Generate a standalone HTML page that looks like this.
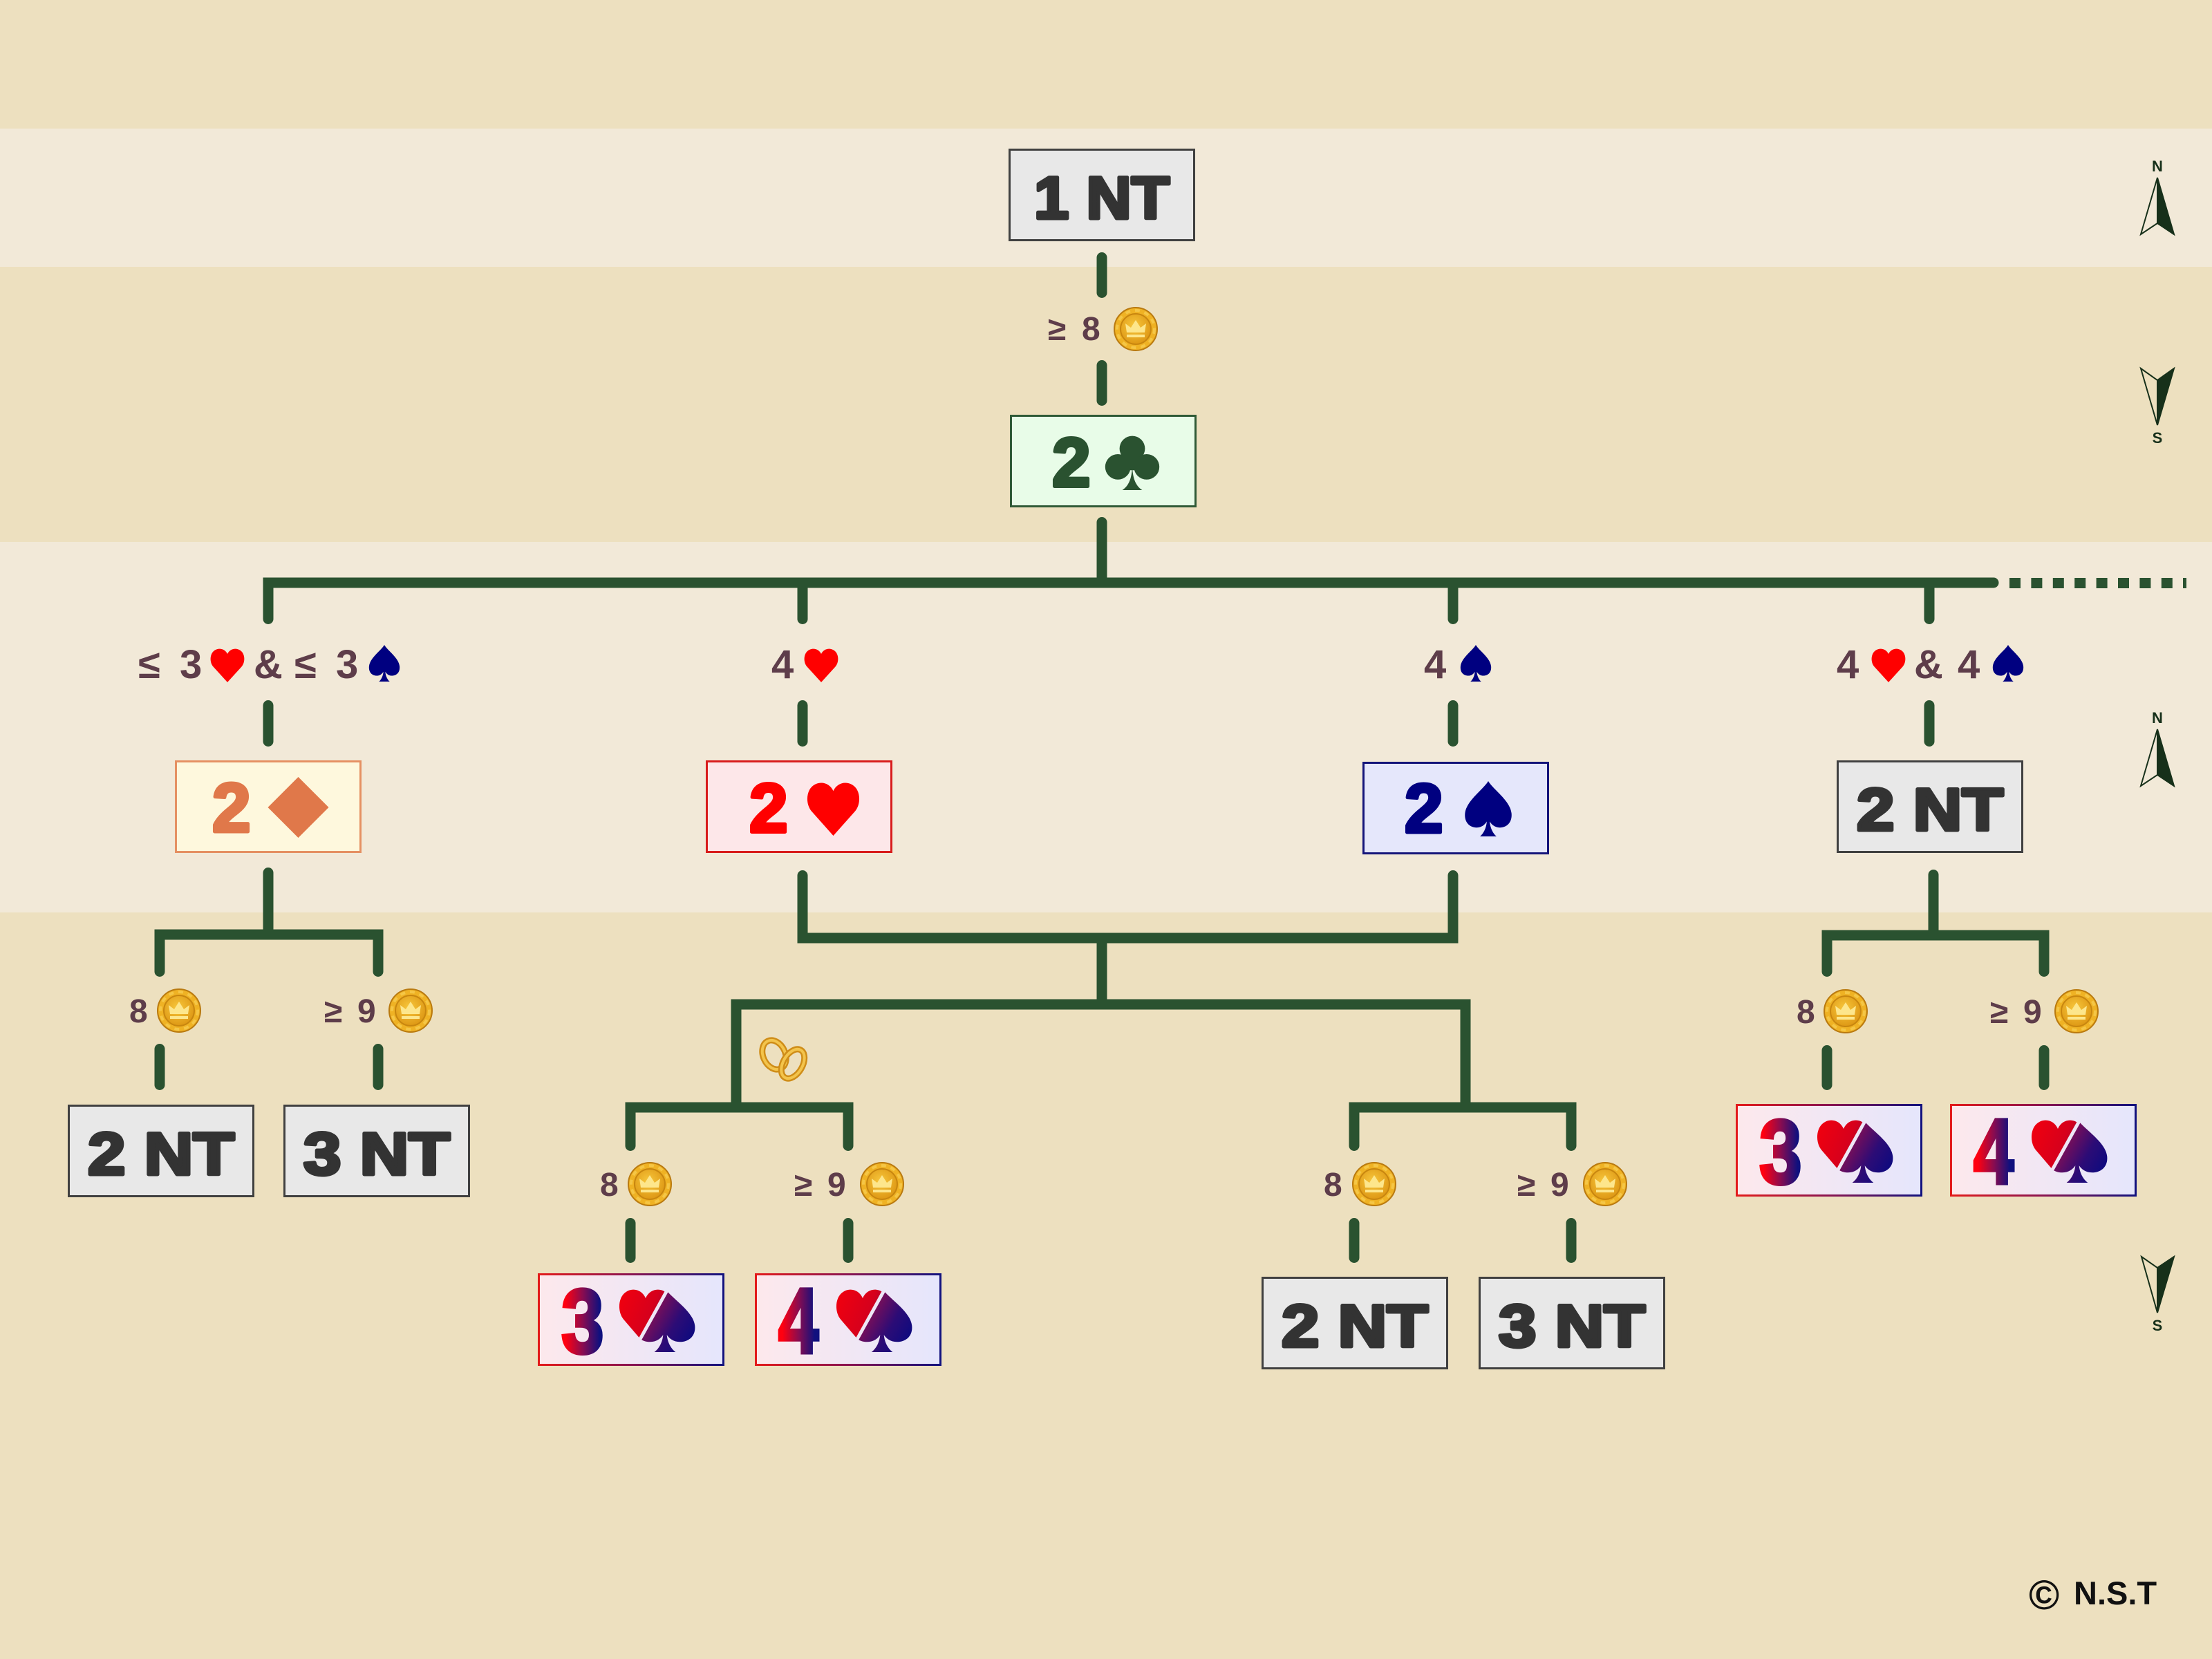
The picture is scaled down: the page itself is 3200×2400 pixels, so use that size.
<!DOCTYPE html>
<html>
<head>
<meta charset="utf-8">
<style>
html,body{margin:0;padding:0;background:#ede0bf;width:3200px;height:2400px;overflow:hidden;}
svg{display:block}
text{font-family:"Liberation Sans",sans-serif;}
.nt{font-weight:bold;font-size:86px;fill:#333333;stroke:#333333;stroke-width:5;stroke-linejoin:round;text-anchor:middle;}
.lb{font-weight:bold;fill:#5e3d4a;}
.l1{font-size:58px;}
.l2{font-size:48px;}
.cn{fill:none;stroke:#2a5230;stroke-width:15;stroke-linecap:round;stroke-linejoin:miter;}
.cp{font-weight:bold;font-size:22px;fill:#17301a;text-anchor:middle;}
.gd{font-weight:bold;fill:url(#gdig);stroke:url(#gdig);stroke-width:5;stroke-linejoin:miter;}
</style>
</head>
<body>
<svg width="3200" height="2400" viewBox="0 0 3200 2400" xmlns="http://www.w3.org/2000/svg">
<defs>
  <path id="hp" d="M50,100 L9,55 C-2,42 -1,20 10,10 C22,-1 42,1 50,18 C58,1 78,-1 90,10 C101,20 102,42 91,55 Z"/>
  <path id="sp" d="M50,0 C40,15 5,35 2,58 C0,75 12,84 26,84 C36,84 43,79 47,73 C46,85 40,95 33,100 L67,100 C60,95 54,85 53,73 C57,79 64,84 74,84 C88,84 100,75 98,58 C95,35 60,15 50,0 Z"/>
  <g id="club">
    <circle cx="50" cy="25" r="23"/>
    <circle cx="24" cy="58" r="23"/>
    <circle cx="76" cy="58" r="23"/>
    <path d="M38,38 L62,38 L64,64 L36,64 Z"/>
    <path d="M50,52 C50,78 44,92 32,100 L68,100 C56,92 50,78 50,52 Z"/>
  </g>
  <radialGradient id="coinIn" cx="0.45" cy="0.4" r="0.6">
    <stop offset="0" stop-color="#f7c73c"/>
    <stop offset="1" stop-color="#de9815"/>
  </radialGradient>
  <g id="coin">
    <circle r="31" fill="#efb224" stroke="#b97a10" stroke-width="2"/>
    <circle r="27" fill="none" stroke="#f9d45e" stroke-width="4" stroke-dasharray="7 7" opacity="0.6"/>
    <circle r="22" fill="url(#coinIn)" stroke="#c8860f" stroke-width="2"/>
    <path d="M-13,5 L-15,-8 L-7,-2 L0,-13 L7,-2 L15,-8 L13,5 Z" fill="#fde68c"/>
    <rect x="-13" y="8" width="26" height="4" fill="#fde68c"/>
  </g>
  <linearGradient id="gfill" x1="0" y1="0" x2="1" y2="0">
    <stop offset="0" stop-color="#fde8ec"/>
    <stop offset="1" stop-color="#e5e6fc"/>
  </linearGradient>
  <linearGradient id="gstroke" x1="0" y1="0" x2="1" y2="0">
    <stop offset="0" stop-color="#e31b1b"/>
    <stop offset="0.5" stop-color="#8a1450"/>
    <stop offset="1" stop-color="#12127e"/>
  </linearGradient>
  <linearGradient id="gdig" x1="0" y1="0" x2="1" y2="0">
    <stop offset="0.1" stop-color="#ff0010"/>
    <stop offset="0.5" stop-color="#8a0c50"/>
    <stop offset="0.9" stop-color="#10107e"/>
  </linearGradient>
  <linearGradient id="ghrt" x1="0" y1="0.3" x2="1" y2="0.7">
    <stop offset="0" stop-color="#ee0010"/>
    <stop offset="0.55" stop-color="#d6001c"/>
    <stop offset="1" stop-color="#7a0a48"/>
  </linearGradient>
  <linearGradient id="gspd" x1="0" y1="0.2" x2="1" y2="0.8">
    <stop offset="0" stop-color="#c0102c"/>
    <stop offset="0.3" stop-color="#7c0e58"/>
    <stop offset="0.65" stop-color="#2c0c76"/>
    <stop offset="1" stop-color="#0a0a80"/>
  </linearGradient>
  <clipPath id="clipL"><polygon points="0,-10 203.5,-10 120.4,140 0,140"/></clipPath>
  <clipPath id="clipR"><polygon points="209.1,-10 300,-10 300,140 126,140"/></clipPath>
  <g id="hsicon">
    <g clip-path="url(#clipL)"><use href="#hp" transform="translate(117,21) scale(0.78,0.83)" fill="url(#ghrt)"/></g>
    <g clip-path="url(#clipR)"><use href="#sp" transform="translate(139,22) scale(0.9,0.92)" fill="url(#gspd)"/></g>
  </g>
  <rect id="gbox" x="1.5" y="1.5" width="267" height="131" fill="url(#gfill)" stroke="url(#gstroke)" stroke-width="3"/>
</defs>

<!-- background bands -->
<rect x="0" y="0" width="3200" height="2400" fill="#ede0bf"/>
<rect x="0" y="186" width="3200" height="200" fill="#f2e9d8"/>
<rect x="0" y="784" width="3200" height="536" fill="#f2e9d8"/>

<!-- connectors -->
<path class="cn" d="M1594,372.5 V423.5"/>
<path class="cn" d="M1594,528.5 V579.5"/>
<path class="cn" d="M1594,755.5 V843"/>
<path class="cn" d="M388,895.5 V843 H2884"/>
<path class="cn" d="M1161,843 V895.5"/>
<path class="cn" d="M2102,843 V895.5"/>
<path class="cn" d="M2791,843 V895.5"/>
<g fill="#2a5230">
  <rect x="2907" y="836" width="16" height="15"/>
  <rect x="2938.4" y="836" width="16" height="15"/>
  <rect x="2969.8" y="836" width="16" height="15"/>
  <rect x="3001.2" y="836" width="16" height="15"/>
  <rect x="3032.6" y="836" width="16" height="15"/>
  <rect x="3064" y="836" width="16" height="15"/>
  <rect x="3095.4" y="836" width="16" height="15"/>
  <rect x="3126.8" y="836" width="16" height="15"/>
  <rect x="3158" y="836" width="5" height="15"/>
</g>
<path class="cn" d="M388,1020.5 V1072.5"/>
<path class="cn" d="M1161,1020.5 V1072.5"/>
<path class="cn" d="M2102,1020.5 V1072.5"/>
<path class="cn" d="M2791,1020.5 V1072.5"/>

<!-- 2D children -->
<path class="cn" d="M388,1262.5 V1352"/>
<path class="cn" d="M231,1405.5 V1352 H547 V1405.5"/>
<path class="cn" d="M231,1517.5 V1569.5"/>
<path class="cn" d="M547,1517.5 V1569.5"/>

<!-- right 2NT children -->
<path class="cn" d="M2797,1265.5 V1353"/>
<path class="cn" d="M2643,1405.5 V1353 H2957 V1405.5"/>
<path class="cn" d="M2643,1519.5 V1569.5"/>
<path class="cn" d="M2957,1519.5 V1569.5"/>

<!-- middle -->
<path class="cn" d="M1161,1266.5 V1357 H2102 V1266.5"/>
<path class="cn" d="M1594,1357 V1453"/>
<path class="cn" d="M1065,1602 V1453 H2120 V1602"/>
<path class="cn" d="M912,1657.5 V1602 H1227 V1657.5"/>
<path class="cn" d="M1959,1657.5 V1602 H2273 V1657.5"/>
<path class="cn" d="M912,1769.5 V1819.5"/>
<path class="cn" d="M1227,1769.5 V1819.5"/>
<path class="cn" d="M1959,1769.5 V1819.5"/>
<path class="cn" d="M2273,1769.5 V1819.5"/>

<!-- rings -->
<g transform="translate(1133,1532)">
  <ellipse cx="-13" cy="-6" rx="16" ry="22" transform="rotate(-25 -13 -6)" fill="none" stroke="#cf8d18" stroke-width="9"/>
  <ellipse cx="-13" cy="-6" rx="16" ry="22" transform="rotate(-25 -13 -6)" fill="none" stroke="#f3c44c" stroke-width="4"/>
  <ellipse cx="14" cy="7" rx="14" ry="23" transform="rotate(30 14 7)" fill="none" stroke="#cf8d18" stroke-width="9"/>
  <ellipse cx="14" cy="7" rx="14" ry="23" transform="rotate(30 14 7)" fill="none" stroke="#f3c44c" stroke-width="4"/>
</g>

<!-- level 0 label -->
<text class="lb l2" x="1516" y="492">≥</text>
<text class="lb l2" x="1565" y="492">8</text>
<use href="#coin" x="1643" y="476"/>

<!-- level 1 labels -->
<text class="lb l1" x="200" y="981">≤</text>
<text class="lb l1" x="260" y="981">3</text>
<use href="#hp" transform="translate(304,937) scale(0.5)" fill="#ff0000"/>
<text class="lb l1" x="367" y="981">&amp;</text>
<text class="lb l1" x="426" y="981">≤</text>
<text class="lb l1" x="486" y="981">3</text>
<use href="#sp" transform="translate(533,933) scale(0.46,0.53)" fill="#000080"/>

<text class="lb l1" x="1116" y="981">4</text>
<use href="#hp" transform="translate(1163,937) scale(0.5)" fill="#ff0000"/>

<text class="lb l1" x="2060" y="981">4</text>
<use href="#sp" transform="translate(2112,933) scale(0.46,0.53)" fill="#000080"/>

<text class="lb l1" x="2657" y="981">4</text>
<use href="#hp" transform="translate(2707,937) scale(0.5)" fill="#ff0000"/>
<text class="lb l1" x="2769" y="981">&amp;</text>
<text class="lb l1" x="2832" y="981">4</text>
<use href="#sp" transform="translate(2882,933) scale(0.46,0.53)" fill="#000080"/>

<!-- level 2 labels -->
<text class="lb l2" x="187" y="1479">8</text>
<use href="#coin" x="259" y="1462"/>
<text class="lb l2" x="469" y="1479">≥</text>
<text class="lb l2" x="517" y="1479">9</text>
<use href="#coin" x="594" y="1462"/>

<text class="lb l2" x="2599" y="1480">8</text>
<use href="#coin" x="2670" y="1463"/>
<text class="lb l2" x="2879" y="1480">≥</text>
<text class="lb l2" x="2927" y="1480">9</text>
<use href="#coin" x="3004" y="1463"/>

<!-- level 3 labels -->
<text class="lb l2" x="868" y="1730">8</text>
<use href="#coin" x="940" y="1713"/>
<text class="lb l2" x="1149" y="1730">≥</text>
<text class="lb l2" x="1197" y="1730">9</text>
<use href="#coin" x="1276" y="1713"/>

<text class="lb l2" x="1915" y="1730">8</text>
<use href="#coin" x="1988" y="1713"/>
<text class="lb l2" x="2195" y="1730">≥</text>
<text class="lb l2" x="2243" y="1730">9</text>
<use href="#coin" x="2322" y="1713"/>

<!-- gray NT boxes -->
<g transform="translate(1459,215)">
  <rect x="1.5" y="1.5" width="267" height="131" fill="#e8e8e8" stroke="#404040" stroke-width="3"/>
  <text class="nt" x="135" y="101" textLength="196" lengthAdjust="spacingAndGlyphs">1 NT</text>
</g>
<g transform="translate(2657,1100)">
  <rect x="1.5" y="1.5" width="267" height="131" fill="#e8e8e8" stroke="#404040" stroke-width="3"/>
  <text class="nt" x="135" y="101" textLength="212" lengthAdjust="spacingAndGlyphs">2 NT</text>
</g>
<g transform="translate(98,1598)">
  <rect x="1.5" y="1.5" width="267" height="131" fill="#e8e8e8" stroke="#404040" stroke-width="3"/>
  <text class="nt" x="135" y="101" textLength="212" lengthAdjust="spacingAndGlyphs">2 NT</text>
</g>
<g transform="translate(410,1598)">
  <rect x="1.5" y="1.5" width="267" height="131" fill="#e8e8e8" stroke="#404040" stroke-width="3"/>
  <text class="nt" x="135" y="101" textLength="212" lengthAdjust="spacingAndGlyphs">3 NT</text>
</g>
<g transform="translate(1825,1847)">
  <rect x="1.5" y="1.5" width="267" height="131" fill="#e8e8e8" stroke="#404040" stroke-width="3"/>
  <text class="nt" x="135" y="101" textLength="212" lengthAdjust="spacingAndGlyphs">2 NT</text>
</g>
<g transform="translate(2139,1847)">
  <rect x="1.5" y="1.5" width="267" height="131" fill="#e8e8e8" stroke="#404040" stroke-width="3"/>
  <text class="nt" x="135" y="101" textLength="212" lengthAdjust="spacingAndGlyphs">3 NT</text>
</g>

<!-- 2 clubs -->
<g transform="translate(1461,600)">
  <rect x="1.5" y="1.5" width="267" height="131" fill="#e8fce8" stroke="#2f5a36" stroke-width="3"/>
  <text x="61" y="103.5" font-size="100" font-weight="bold" fill="#2a5230" stroke="#2a5230" stroke-width="5" stroke-linejoin="round">2</text>
  <use href="#club" transform="translate(137,29) scale(0.8)" fill="#2a5230"/>
</g>
<!-- 2 diamonds -->
<g transform="translate(253,1100)">
  <rect x="1.5" y="1.5" width="267" height="131" fill="#fef8dd" stroke="#e59062" stroke-width="3"/>
  <text x="54" y="103" font-size="100" font-weight="bold" fill="#e0784a" stroke="#e0784a" stroke-width="5" stroke-linejoin="round">2</text>
  <polygon points="178.5,24 222.5,68 178.5,112 134.5,68" fill="#e0784a"/>
</g>
<!-- 2 hearts -->
<g transform="translate(1021,1100)">
  <rect x="1.5" y="1.5" width="267" height="131" fill="#fde7e9" stroke="#d81c1c" stroke-width="3"/>
  <text x="63" y="103.5" font-size="100" font-weight="bold" fill="#ff0000" stroke="#ff0000" stroke-width="5" stroke-linejoin="round">2</text>
  <use href="#hp" transform="translate(146,30) scale(0.77,0.79)" fill="#ff0000"/>
</g>
<!-- 2 spades -->
<g transform="translate(1971,1102)">
  <rect x="1.5" y="1.5" width="267" height="131" fill="#e5e7fb" stroke="#14147a" stroke-width="3"/>
  <text x="61" y="102" font-size="100" font-weight="bold" fill="#000080" stroke="#000080" stroke-width="5" stroke-linejoin="round">2</text>
  <use href="#sp" transform="translate(147,28) scale(0.70,0.80)" fill="#000080"/>
</g>

<!-- gradient boxes -->
<g transform="translate(778,1842)">
  <use href="#gbox"/>
  <text class="gd" transform="translate(34,115) scale(0.84,1)" font-size="132">3</text>
  <use href="#hsicon"/>
</g>
<g transform="translate(1092,1842)">
  <use href="#gbox"/>
  <text class="gd" transform="translate(34,115) scale(0.78,1)" font-size="134">4</text>
  <use href="#hsicon"/>
</g>
<g transform="translate(2511,1597)">
  <use href="#gbox"/>
  <text class="gd" transform="translate(34,115) scale(0.84,1)" font-size="132">3</text>
  <use href="#hsicon"/>
</g>
<g transform="translate(2821,1597)">
  <use href="#gbox"/>
  <text class="gd" transform="translate(34,115) scale(0.78,1)" font-size="134">4</text>
  <use href="#hsicon"/>
</g>

<!-- compasses -->
<text class="cp" x="3121" y="248">N</text>
<polygon points="3121,257 3097,339 3121,323" fill="none" stroke="#17301a" stroke-width="2" stroke-linejoin="miter"/>
<polygon points="3121,257 3145,339 3121,323" fill="#17301a" stroke="#17301a" stroke-width="2"/>
<polygon points="3097,533 3121,550 3121,615" fill="none" stroke="#17301a" stroke-width="2"/>
<polygon points="3145,533 3121,550 3121,615" fill="#17301a" stroke="#17301a" stroke-width="2"/>
<text class="cp" x="3121" y="641">S</text>

<text class="cp" x="3121" y="1046">N</text>
<polygon points="3121,1055 3097,1137 3121,1121" fill="none" stroke="#17301a" stroke-width="2"/>
<polygon points="3121,1055 3145,1137 3121,1121" fill="#17301a" stroke="#17301a" stroke-width="2"/>
<polygon points="3098,1818 3121,1834 3121,1899" fill="none" stroke="#17301a" stroke-width="2"/>
<polygon points="3145,1818 3121,1834 3121,1899" fill="#17301a" stroke="#17301a" stroke-width="2"/>
<text class="cp" x="3121" y="1925">S</text>

<!-- copyright -->
<text x="2935" y="2328" font-size="60" font-weight="bold" fill="#111111">©</text>
<text x="3000" y="2321" font-size="47" font-weight="bold" fill="#111111">N.S.T</text>
</svg>
</body>
</html>
